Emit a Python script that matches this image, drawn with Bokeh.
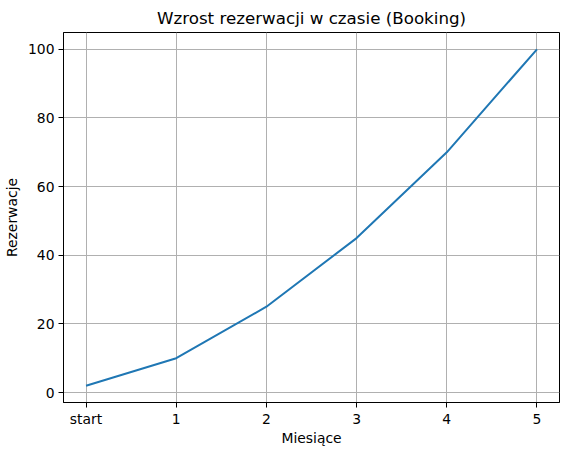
from bokeh.plotting import figure
from bokeh.models import FixedTicker, Range1d
from bokeh.embed import file_html
from bokeh.resources import INLINE

months = [0, 1, 2, 3, 4, 5]
month_labels = ["start", "1", "2", "3", "4", "5"]
bookings = [2, 10, 25, 45, 70, 100]
y_ticks = [0, 20, 40, 60, 80, 100]

FONT = "DejaVu Sans"

p = figure(frame_width=496, frame_height=370, output_backend="svg", toolbar_location=None,
           x_range=Range1d(-0.25, 5.25), y_range=Range1d(-2.9, 104.9),
           title="Wzrost rezerwacji w czasie (Booking)",
           min_border_left=58, min_border_right=1, min_border_top=24, min_border_bottom=45)

p.title.align = "center"
p.title.text_font = FONT
p.title.text_font_size = "16.7px"
p.title.text_font_style = "normal"
p.title.text_color = "black"

p.line(months, bookings, line_color="#1f77b4", line_width=2)

p.outline_line_color = "black"
p.outline_line_width = 1
p.outline_line_alpha = 1

for ax in (p.xaxis[0], p.yaxis[0]):
    ax.axis_line_color = "black"
    ax.major_tick_line_color = "black"
    ax.major_tick_out = 5
    ax.major_tick_in = 0
    ax.minor_tick_line_color = None
    ax.major_label_text_font = FONT
    ax.major_label_text_font_size = "13.9px"
    ax.major_label_text_color = "black"
    ax.axis_label_text_font = FONT
    ax.axis_label_text_font_size = "13.9px"
    ax.axis_label_text_font_style = "normal"
    ax.axis_label_text_color = "black"
    ax.major_label_standoff = 4

p.xaxis.ticker = FixedTicker(ticks=months)
p.xaxis.major_label_overrides = {m: l for m, l in zip(months, month_labels)}
p.yaxis.ticker = FixedTicker(ticks=y_ticks)
p.xaxis.axis_label = "Miesiące"
p.yaxis.axis_label = "Rezerwacje"
p.xaxis.major_label_standoff = 3
p.xaxis.axis_label_standoff = 0
p.yaxis.axis_label_standoff = 5

p.grid.grid_line_color = "#b0b0b0"
p.grid.grid_line_width = 1
p.background_fill_color = "white"
p.border_fill_color = "white"

open("out.html", "w").write(file_html(p, INLINE))
